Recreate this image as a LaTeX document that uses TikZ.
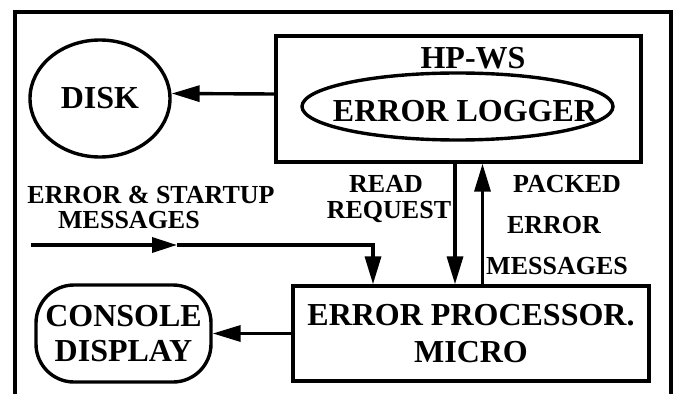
\documentclass[tikz,border=0pt]{standalone}
\usepackage{fontspec}
\setmainfont{Liberation Serif}
\usetikzlibrary{arrows.meta,shapes.geometric}
\tikzset{
  ln/.style={line width=3.4pt},
  arr/.style={ln,-{Triangle[length=28pt,width=16pt]}},
  boxnode/.style={draw,ln,rectangle,inner sep=0pt},
  big/.style={font=\bfseries\fontsize{32}{36}\selectfont},
  lab/.style={font=\bfseries\fontsize{26}{26}\selectfont,inner sep=0pt,anchor=base},
}
\begin{document}
\begin{tikzpicture}[x=1pt,y=1pt]
\useasboundingbox (0,0) rectangle (676,394);
% outer frame (open at the bottom)
\coordinate (fbl) at (15,0);
\coordinate (fbr) at (671,0);
\draw[ln] (fbl) -- (15,382) -- (671,382) -- (fbr);
% nodes
\node[boxnode,minimum width=365pt,minimum height=126pt] (hp) at (458.5,295) {};
\node[big,inner sep=0pt] (hpws) at (473,336) {HP-WS};
\node[draw,ln,ellipse,minimum width=311pt,minimum height=67pt,inner sep=0pt] (logger) at (457.5,287.5) {};
\node[big,inner sep=0pt] (loggertext) at (465,283) {ERROR LOGGER};
\node[draw,ln,ellipse,minimum width=140pt,minimum height=117pt,inner sep=0pt,big] (disk) at (100,295.5) {DISK};
\node[boxnode,big,align=center,minimum width=356pt,minimum height=95pt,font=\bfseries\fontsize{32}{37}\selectfont] (ep) at (471,60.5) {ERROR PROCESSOR.\\MICRO};
\node[draw,ln,rectangle,rounded corners=38pt,inner sep=0pt,align=center,minimum width=175pt,minimum height=97pt,font=\bfseries\fontsize{32}{35}\selectfont] (con) at (123.5,60.5) {CONSOLE\\DISPLAY};
% labels
\node[lab] (t1) at (151,190.4) {ERROR \& STARTUP};
\node[lab] (t2) at (129,165.4) {MESSAGES};
\node[lab] (t3) at (386,201.4) {READ};
\node[lab] (t4) at (389,175.4) {REQUEST};
\node[lab] (t5) at (567,201.4) {PACKED};
\node[lab] (t6) at (554,160.4) {ERROR};
\node[lab] (t7) at (557,119.4) {MESSAGES};
% connectors
\draw[arr] ([yshift=5pt]hp.west) -- ([yshift=5pt]disk.east);
\draw[arr] (ep.west) -- (con.east);
\draw[arr] ([xshift=-3.5pt]hp.south) -- ([xshift=-3.5pt]hp.south |- ep.north);
\draw[arr] ([xshift=11.5pt]ep.north) -- ([xshift=11.5pt]ep.north |- hp.south);
\coordinate (in) at (31,149);
\coordinate (mid) at (177,149);
\draw[ln,-{Triangle[length=25pt,width=15pt]}] (in) -- (mid);
\draw[arr] (mid) -| ([xshift=-98pt]ep.north);
\end{tikzpicture}
\end{document}
